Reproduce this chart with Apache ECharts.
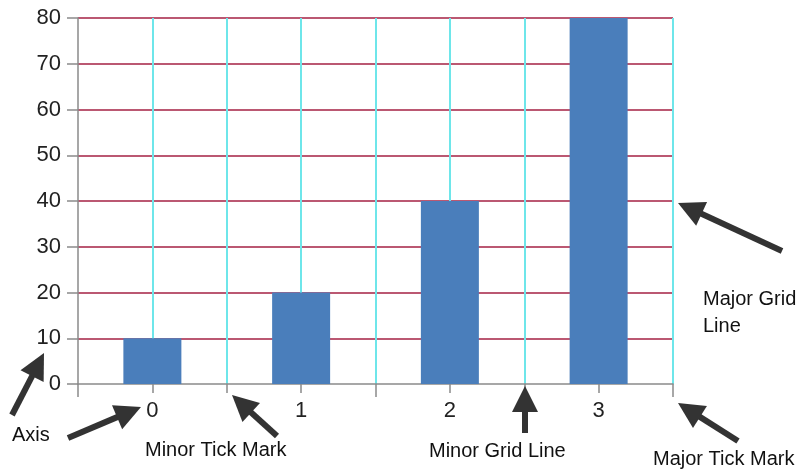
<!DOCTYPE html>
<html>
<head>
<meta charset="utf-8">
<script src="https://cdn.jsdelivr.net/npm/echarts@6/dist/echarts.min.js"></script>
<style>
html,body{margin:0;padding:0;background:#fff;}
#chart{width:804px;height:472px;}
</style>
</head>
<body>
<div id="chart"></div>
<script>
// ---- data ----
const categories = ['0', '1', '2', '3'];
const values = [10, 20, 40, 80];
const yMin = 0, yMax = 80, yStep = 10;

// annotations: [text lines, left x, center y of first line]
const notes = [
  {lines: ['Axis'], x: 12, y: 435},
  {lines: ['Minor Tick Mark'], x: 145, y: 450},
  {lines: ['Minor Grid Line'], x: 429, y: 451},
  {lines: ['Major Grid', 'Line'], x: 703, y: 299},
  {lines: ['Major Tick Mark'], x: 653, y: 459}
];
// arrows: tail -> tip
const arrows = [
  [12, 415, 44, 353],
  [68, 438, 141, 407],
  [277, 436, 232, 395],
  [525, 433, 525, 386],
  [782, 251, 678, 203],
  [738, 441, 678, 403]
];

const FONT = '"Liberation Sans", Arial, sans-serif';
const chart = echarts.init(document.getElementById('chart'), null, {renderer: 'canvas'});

// x positions on a half-unit scale: category i sits at 2*i+1, boundaries at even values
const span = categories.length * 2;
const barData = categories.map((c, i) => [2 * i + 1, values[i]]);

function arrowGraphic(x1, y1, x2, y2) {
  const dx = x2 - x1, dy = y2 - y1;
  const len = Math.sqrt(dx * dx + dy * dy);
  const ux = dx / len, uy = dy / len;
  const px = -uy, py = ux;
  const hl = 26, hw = 13;
  const bx = x2 - ux * hl, by = y2 - uy * hl;
  return [
    {type: 'line', shape: {x1: x1, y1: y1, x2: bx + ux * 2, y2: by + uy * 2},
     style: {stroke: '#333', lineWidth: 6}, z: 100},
    {type: 'polygon', shape: {points: [[x2, y2], [bx + px * hw, by + py * hw], [bx - px * hw, by - py * hw]]},
     style: {fill: '#333'}, z: 100}
  ];
}

const graphics = [];
arrows.forEach(a => graphics.push(...arrowGraphic(a[0], a[1], a[2], a[3])));
notes.forEach(n => {
  n.lines.forEach((t, k) => {
    graphics.push({type: 'text', x: n.x, y: n.y + k * 27, z: 100,
      style: {text: t, font: '20px ' + FONT, fill: '#111', verticalAlign: 'middle', align: 'left'}});
  });
});

const option = {
  animation: false,
  backgroundColor: '#fff',
  grid: {left: 78, right: 131, top: 18, bottom: 88, containLabel: false},
  xAxis: [
    {
      type: 'value', min: 0, max: span, interval: 1,
      axisLine: {show: true, lineStyle: {color: '#8a8a8a', width: 1.5}},
      axisTick: {show: true, length: 9, lineStyle: {color: '#8a8a8a', width: 1.5}},
      axisLabel: {
        show: true, margin: 16, color: '#222', fontFamily: FONT, fontSize: 22,
        formatter: v => (v % 2 === 1 ? categories[(v - 1) / 2] : '')
      },
      splitLine: {show: true, showMinLine: false, lineStyle: {color: '#6ee6ea', width: 2}}
    },
    {
      type: 'value', min: 0, max: span, interval: 4, position: 'bottom',
      axisLine: {show: false},
      axisTick: {show: true, length: 13, lineStyle: {color: '#8a8a8a', width: 1.5}},
      axisLabel: {show: false},
      splitLine: {show: false}
    }
  ],
  yAxis: {
    type: 'value', min: yMin, max: yMax, interval: yStep,
    axisLine: {show: true, lineStyle: {color: '#8a8a8a', width: 1.5}},
    axisTick: {show: true, length: 11, lineStyle: {color: '#8a8a8a', width: 1.5}},
    axisLabel: {margin: 17, color: '#222', fontFamily: FONT, fontSize: 22},
    splitLine: {show: true, showMinLine: false, lineStyle: {color: '#bb5872', width: 2}}
  },
  series: [{
    type: 'bar', xAxisIndex: 0, yAxisIndex: 0,
    data: barData, barWidth: 58,
    itemStyle: {color: '#4a7ebb'}
  }],
  graphic: graphics
};
chart.setOption(option);
</script>
</body>
</html>
